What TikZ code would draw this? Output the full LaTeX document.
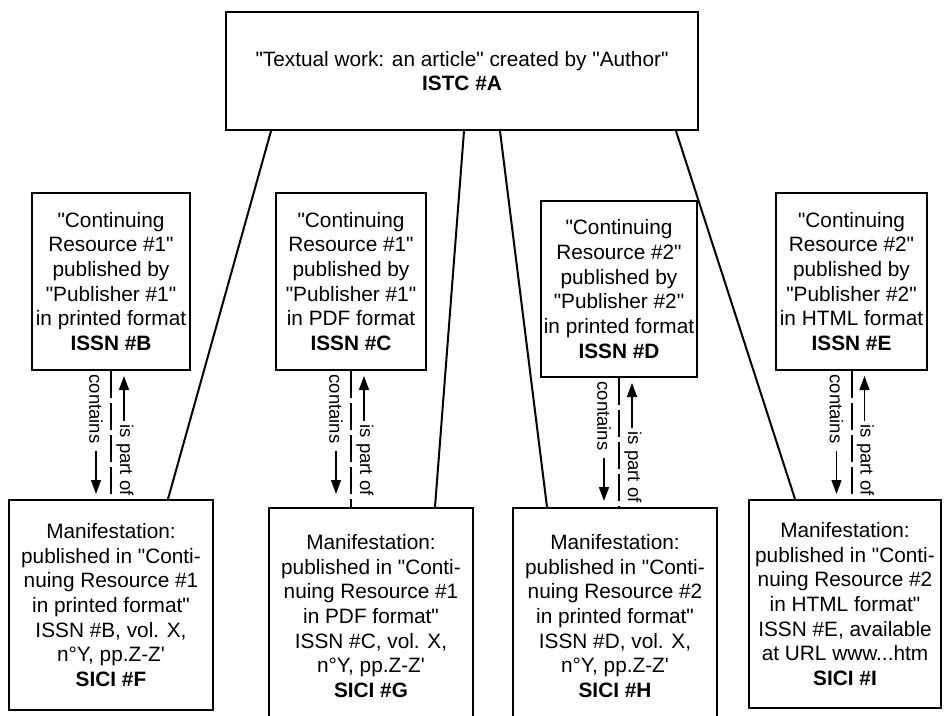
\documentclass[tikz,border=0pt]{standalone}
\usepackage{fontspec}
\setmainfont{Liberation Sans}[Ligatures=TeXOff]
\usetikzlibrary{arrows.meta,calc}
\tikzset{
  box/.style={draw, line width=2pt, inner sep=0pt, align=center,
    font=\fontsize{20.8pt}{24.7pt}\selectfont},
  conn/.style={line width=2pt},
  vlink/.style={line width=2pt, dash pattern=on 27pt off 5pt},
  lbl/.style={font=\fontsize{18.5pt}{20pt}\selectfont, inner sep=0pt, rotate=-90},
  arr/.style={line width=1.4pt, -{Triangle[length=14pt,width=10pt]}}
}
\newcommand\partlink[2]{%
  \draw[vlink] (#1.south) -- (#1.south |- #2.north);
  \node[lbl] at ([shift={(-15,38)}]#1.south) {contains};
  \draw[arr] ([shift={(-15,80)}]#1.south) -- ([shift={(-15,123)}]#1.south);
  \draw[arr] ([shift={(13,50)}]#1.south) -- ([shift={(13,5)}]#1.south);
  \node[lbl] at ([shift={(14,89)}]#1.south) {is part of};
}
\begin{document}
\begin{tikzpicture}[x=1pt,y=-1pt]
\useasboundingbox (0,0) rectangle (944,715);
\fill[white] (0,0) rectangle (944,715);

\node[box, minimum width=472pt, minimum height=118pt] (A) at (462,71)
  {"Textual work: an article" created by "Author"\\ \textbf{ISTC \#A}};

\node[box, minimum width=158pt, minimum height=177pt] (B) at (111,281.5)
  {"Continuing\\ Resource \#1"\\ published by\\ "Publisher \#1"\\ in printed format\\ \textbf{ISSN \#B}};
\node[box, minimum width=150pt, minimum height=177pt] (C) at (351,281.5)
  {"Continuing\\ Resource \#1"\\ published by\\ "Publisher \#1"\\ in PDF format\\ \textbf{ISSN \#C}};
\node[box, minimum width=156pt, minimum height=176pt] (D) at (619,289)
  {"Continuing\\ Resource \#2"\\ published by\\ "Publisher \#2"\\ in printed format\\ \textbf{ISSN \#D}};
\node[box, minimum width=151pt, minimum height=177pt] (E) at (851.5,281.5)
  {"Continuing\\ Resource \#2"\\ published by\\ "Publisher \#2"\\ in HTML format\\ \textbf{ISSN \#E}};

\node[box, minimum width=204pt, minimum height=210pt] (F) at (111,605)
  {Manifestation:\\ published in "Conti-\\ nuing Resource \#1\\ in printed format"\\ ISSN \#B, vol. X,\\ n°Y, pp.Z-Z\textquotesingle\\ \textbf{SICI \#F}};
\node[box, minimum width=204pt, minimum height=216pt] (G) at (371,616)
  {Manifestation:\\ published in "Conti-\\ nuing Resource \#1\\ in PDF format"\\ ISSN \#C, vol. X,\\ n°Y, pp.Z-Z\textquotesingle\\ \textbf{SICI \#G}};
\node[box, minimum width=204pt, minimum height=216pt] (H) at (615,616)
  {Manifestation:\\ published in "Conti-\\ nuing Resource \#2\\ in printed format"\\ ISSN \#D, vol. X,\\ n°Y, pp.Z-Z\textquotesingle\\ \textbf{SICI \#H}};
\node[box, minimum width=192pt, minimum height=208pt] (I) at (845,604)
  {Manifestation:\\ published in "Conti-\\ nuing Resource \#2\\ in HTML format"\\ ISSN \#E, available\\ at URL www...htm\\ \textbf{SICI \#I}};

\draw[conn] ([xshift=-191pt]A.south) -- ([xshift=57pt]F.north);
\draw[conn] ([xshift=2pt]A.south) -- ([xshift=64pt]G.north);
\draw[conn] ([xshift=38pt]A.south) -- ([xshift=-68pt]H.north);
\draw[conn] ([xshift=214pt]A.south) -- ([xshift=-50pt]I.north);

\partlink{B}{F}
\partlink{C}{G}
\partlink{D}{H}
\partlink{E}{I}
\end{tikzpicture}
\end{document}
